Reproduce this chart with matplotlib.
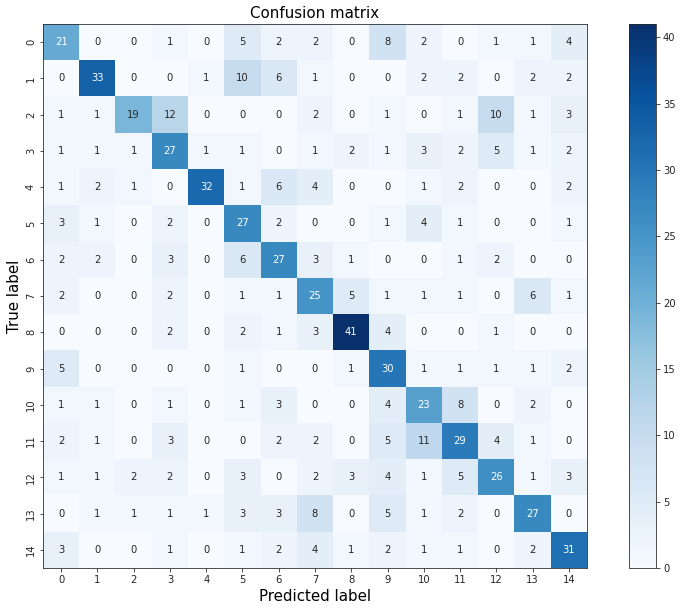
"""
Confusion matrix heatmap, 15 classes.
"""

import matplotlib
matplotlib.use("Agg")
import matplotlib.pyplot as plt
import numpy as np


classes = [str(i) for i in range(15)]

row_0 = [21, 0, 0, 1, 0, 5, 2, 2, 0, 8, 2, 0, 1, 1, 4]
row_1 = [0, 33, 0, 0, 1, 10, 6, 1, 0, 0, 2, 2, 0, 2, 2]
row_2 = [1, 1, 19, 12, 0, 0, 0, 2, 0, 1, 0, 1, 10, 1, 3]
row_3 = [1, 1, 1, 27, 1, 1, 0, 1, 2, 1, 3, 2, 5, 1, 2]
row_4 = [1, 2, 1, 0, 32, 1, 6, 4, 0, 0, 1, 2, 0, 0, 2]
row_5 = [3, 1, 0, 2, 0, 27, 2, 0, 0, 1, 4, 1, 0, 0, 1]
row_6 = [2, 2, 0, 3, 0, 6, 27, 3, 1, 0, 0, 1, 2, 0, 0]
row_7 = [2, 0, 0, 2, 0, 1, 1, 25, 5, 1, 1, 1, 0, 6, 1]
row_8 = [0, 0, 0, 2, 0, 2, 1, 3, 41, 4, 0, 0, 1, 0, 0]
row_9 = [5, 0, 0, 0, 0, 1, 0, 0, 1, 30, 1, 1, 1, 1, 2]
row_10 = [1, 1, 0, 1, 0, 1, 3, 0, 0, 4, 23, 8, 0, 2, 0]
row_11 = [2, 1, 0, 3, 0, 0, 2, 2, 0, 5, 11, 29, 4, 1, 0]
row_12 = [1, 1, 2, 2, 0, 3, 0, 2, 3, 4, 1, 5, 26, 1, 3]
row_13 = [0, 1, 1, 1, 1, 3, 3, 8, 0, 5, 1, 2, 0, 27, 0]
row_14 = [3, 0, 0, 1, 0, 1, 2, 4, 1, 2, 1, 1, 0, 2, 31]

cm = np.array([row_0, row_1, row_2, row_3, row_4, row_5, row_6, row_7,
               row_8, row_9, row_10, row_11, row_12, row_13, row_14])

text_col = "#262626"

fig = plt.figure(figsize=(682 / 72, 611 / 72), dpi=72)
ax = fig.add_axes([43 / 682, 1 - 568 / 611, 544 / 682, 544 / 611])
cax = fig.add_axes([629 / 682, 1 - 568 / 611, 27 / 682, 544 / 611])

im = ax.imshow(cm, interpolation="nearest", cmap=plt.cm.Blues, aspect="auto")
ax.set_title("Confusion matrix", fontsize=15)

ticks = np.arange(len(classes))
ax.set_xticks(ticks)
ax.set_xticklabels(classes)
ax.set_yticks(ticks)
ax.set_yticklabels(classes, rotation=90, va="center")
ax.tick_params(labelsize=10, labelcolor=text_col, color=text_col)

# white text on the dark cells
thresh = cm.max() / 2.0
for i in range(cm.shape[0]):
    for j in range(cm.shape[1]):
        ax.text(j, i, format(cm[i, j], "d"), ha="center", va="center",
                fontsize=10,
                color="white" if cm[i, j] > thresh else text_col)

ax.set_ylabel("True label", fontsize=15)
ax.set_xlabel("Predicted label", fontsize=15)
for s in ax.spines.values():
    s.set_color(text_col)

cb = fig.colorbar(im, cax=cax)
cb.set_ticks(np.arange(0, 41, 5))
cb.ax.tick_params(labelsize=10, labelcolor=text_col, color=text_col)
cb.outline.set_edgecolor(text_col)

fig.savefig("out.png", dpi=72)
plt.close(fig)
